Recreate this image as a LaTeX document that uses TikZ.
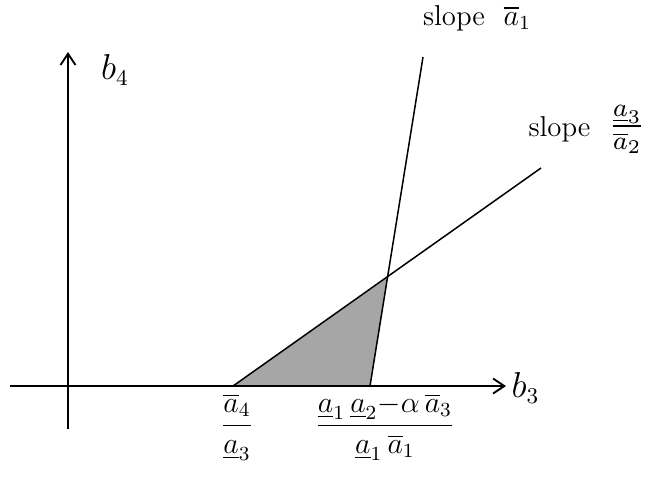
\documentclass[tikz,border=0pt]{standalone}
\usepackage{amsmath}
\usetikzlibrary{arrows.meta}
\begin{document}
\begin{tikzpicture}[x=0.4pt,y=-0.4pt,
  axis/.style={line width=0.75pt,-{Straight Barb[length=4.5pt,width=6pt]}},
  ln/.style={line width=0.6pt},
  lab/.style={inner sep=0pt,font=\fontsize{11.5pt}{14pt}\selectfont},
  axlab/.style={inner sep=0pt,font=\fontsize{13.5pt}{16pt}\selectfont}]
\useasboundingbox (0,0) rectangle (657,481);
% key points
\coordinate (O) at (68,386);
\coordinate (xs) at (10,386);
\coordinate (xe) at (506,386);
\coordinate (ys) at (68,429);
\coordinate (ye) at (68,52);
\coordinate (L) at (233,386);
\coordinate (P) at (387,278);
\coordinate (R) at (370,386);
\coordinate (T1) at (423,57);
\coordinate (T2) at (541,168);
% shaded region
\fill[gray!70] (L) -- (P) -- (R) -- cycle;
% lines
\draw[ln] (L) -- (T2);
\draw[ln] (R) -- (T1);
% axes
\draw[axis] (xs) -- (xe);
\draw[axis] (ys) -- (ye);
% labels
\node[axlab,anchor=west] (b3) at (511,388) {$b_3$};
\node[axlab] (b4) at (115,70) {$b_4$};
\node[lab] (s1) at (477,18) {slope\ \ $\overline{a}_1$};
\node[lab,anchor=base west] (s2) at (528,136) {slope\ \ \scalebox{1.3}{$\frac{\underline{a}_3}{\overline{a}_2}$}};
\node[lab] (f1) at (237,427) {$\dfrac{\overline{a}_4}{\underline{a}_3}$};
\node[lab] (f2) at (385,427) {$\dfrac{\underline{a}_1\,\underline{a}_2{-}\alpha\,\overline{a}_3}{\underline{a}_1\,\overline{a}_1}$};
\end{tikzpicture}
\end{document}
